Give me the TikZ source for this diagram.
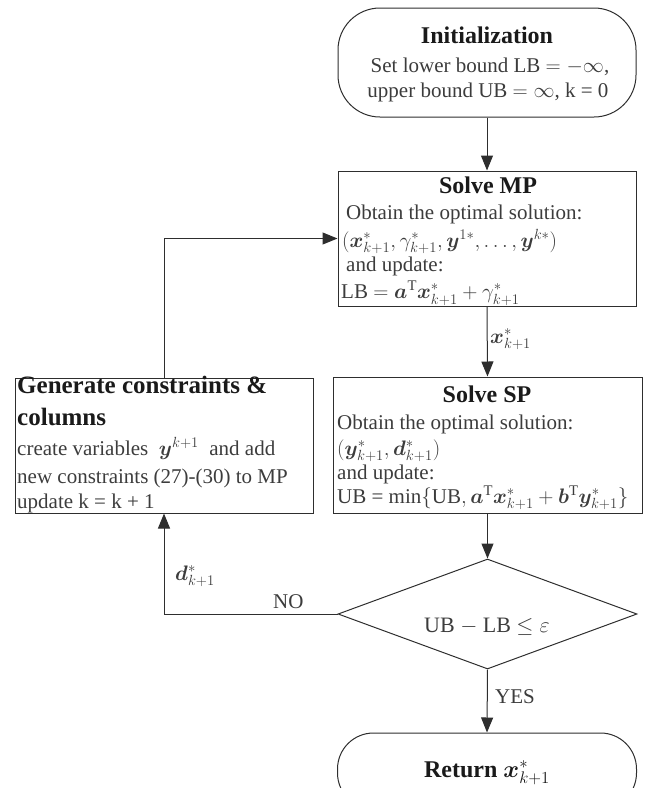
\RequirePackage{fix-cm}
\documentclass[tikz,border=0pt]{standalone}
\usepackage{amsmath,bm}
\usepackage{fontspec}
\setmainfont{Liberation Serif}
\usetikzlibrary{arrows.meta,shapes.geometric}
\definecolor{linec}{HTML}{2E2E2E}
\definecolor{bodyc}{HTML}{3C3C3C}
\definecolor{titlec}{HTML}{1A1A1A}
\tikzset{
  box/.style={draw=linec, line width=1pt, inner sep=0pt},
  arr/.style={draw=linec, line width=1pt, -{Triangle[length=15pt,width=12pt]}},
  body/.style={inner sep=0pt, text=bodyc, font=\fontsize{21}{25}\selectfont},
  ttl/.style={inner sep=0pt, text=titlec, font=\fontsize{24}{28}\selectfont\bfseries},
}
\begin{document}
\begin{tikzpicture}[x=1pt,y=-1pt]
\useasboundingbox (0,0) rectangle (645,788);
\clip (0,0) rectangle (645,788);

% boxes
\node[box, rounded corners=42pt, minimum width=298pt, minimum height=109pt] (init) at (487,62.5) {};
\node[box, minimum width=298pt, minimum height=135pt] (mp) at (487,238.5) {};
\node[box, minimum width=309pt, minimum height=136pt] (sp) at (487.5,445) {};
\node[box, minimum width=298pt, minimum height=135pt] (gen) at (164,445.5) {};
\node[box, diamond, aspect=2.72, minimum width=299pt, minimum height=110pt] (dec) at (487.5,614) {};
\node[box, rounded corners=36pt, minimum width=299pt, minimum height=76pt] (ret) at (487,771) {};

% init text
\node[ttl, anchor=base] (t1) at (487,43) {Initialization};
\node[body, anchor=base] (t1a) at (490,72) {Set lower bound LB $=-\infty$,};
\node[body, anchor=base] (t1b) at (488,97) {upper bound UB $=\infty$, k = 0};

% MP text
\node[ttl, anchor=base] (t2) at (488,193) {Solve MP};
\node[body, anchor=base west] (t2a) at (346,219) {Obtain the optimal solution:};
\node[body, anchor=base west] (t2b) at (342,247) {$(\bm{x}^*_{k+1}, \gamma^*_{k+1}, \bm{y}^{1*}, \dots, \bm{y}^{k*})$};
\node[body, anchor=base west] (t2c) at (346,271) {and update:};
\node[body, anchor=base west] (t2d) at (341,298.5) {LB $= \bm{a}^{\mathrm{T}}\bm{x}^*_{k+1} + \gamma^*_{k+1}$};

% SP text
\node[ttl, anchor=base] (t3) at (487,402) {Solve SP};
\node[body, anchor=base west] (t3a) at (337,429) {Obtain the optimal solution:};
\node[body, anchor=base west] (t3b) at (337,455) {$(\bm{y}^*_{k+1}, \bm{d}^*_{k+1})$};
\node[body, anchor=base west] (t3c) at (337,479) {and update:};
\node[body, anchor=base west] (t3d) at (337,503) {UB = min$\{$UB$, \bm{a}^{\mathrm{T}}\bm{x}^*_{k+1} + \bm{b}^{\mathrm{T}}\bm{y}^*_{k+1}\}$};

% Generate text
\node[ttl, anchor=base west, font=\fontsize{25}{29}\selectfont\bfseries] (t4) at (17,393) {Generate constraints \&};
\node[ttl, anchor=base west, font=\fontsize{25}{29}\selectfont\bfseries] (t4a) at (17,425) {columns};
\node[body, anchor=base west] (t4b) at (17,455) {create variables \ $\bm{y}^{k+1}$ \ and add};
\node[body, anchor=base west] (t4c) at (17,483) {new constraints (27)-(30) to MP};
\node[body, anchor=base west] (t4d) at (17,508) {update k = k + 1};

% decision text
\node[body, anchor=base, font=\fontsize{22}{26}\selectfont] (t5) at (487,632) {UB $-$ LB $\leq \varepsilon$};

% return text
\node[ttl, anchor=base] (t6) at (487,777) {Return $\bm{x}^*_{k+1}$};

% connectors
\draw[arr] (init.south) -- (mp.north);
\draw[arr] (mp.south) -- (sp.north);
\draw[arr] (sp.south) -- (dec.north);
\draw[arr] (dec.south) -- (ret.north);
\draw[arr] (dec.west) -- (dec.west -| gen.south) -- (gen.south);
\draw[arr] (gen.north) |- (mp.west);

% connector labels
\node[body, anchor=base west] (lx) at (490,343) {$\bm{x}^*_{k+1}$};
\node[body, anchor=base west] (lno) at (273,608) {NO};
\node[body, anchor=base west] (ld) at (175,580) {$\bm{d}^*_{k+1}$};
\node[body, anchor=base west] (lyes) at (495,703) {YES};
\end{tikzpicture}
\end{document}
